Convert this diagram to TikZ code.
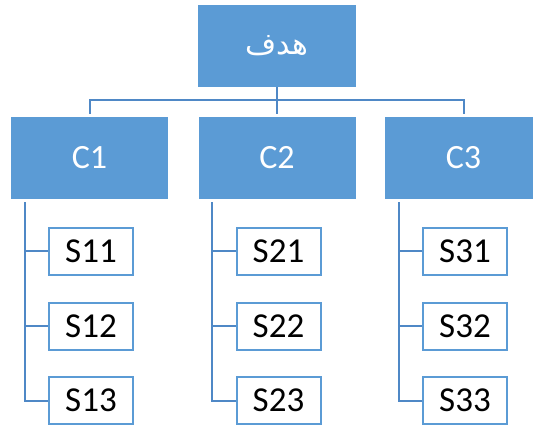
\documentclass[tikz,border=0pt]{standalone}
\usepackage{fontspec}
\setmainfont{Carlito}
\newfontfamily\arabicfont[Script=Arabic]{DejaVu Sans}
\TeXXeTstate=1
\definecolor{boxblue}{HTML}{5B9BD5}
\definecolor{lineblue}{HTML}{4F88C6}
\begin{document}
\begin{tikzpicture}[x=1pt,y=-1pt,
  catbox/.style={draw=none,fill=boxblue,minimum width=157pt,minimum height=82pt,inner sep=0pt,text=white,font=\fontsize{34}{40}\selectfont},
  subbox/.style={draw=boxblue,line width=2pt,fill=white,minimum width=84pt,minimum height=47pt,inner sep=0pt,text=black,font=\fontsize{35}{40}\selectfont},
  conn/.style={draw=lineblue,line width=2pt}]
\clip (0,0) rectangle (533,426);
\fill[white] (0,0) rectangle (533,426);
\node[catbox,minimum width=158pt] (top) at (277,46) {\arabicfont\fontsize{30}{36}\selectfont\beginR هدف\endR};
\node[catbox] (c1) at (89.5,158) {C1};
\node[catbox] (c2) at (277,158) {C2};
\node[catbox] (c3) at (463.5,158) {C3};
\coordinate (j) at (277,100);
\draw[conn] (top.south) -- (j);
\draw[conn,shorten >=3pt] (j) -| (c1.north);
\draw[conn,shorten >=3pt] (j) -| (c3.north);
\draw[conn,shorten >=3pt] (j) -- (c2.north);
\foreach \c/\x [count=\i] in {c1/91,c2/278.5,c3/465}{
  \node[subbox] (s\i1) at (\x,251) {S\i1};
  \node[subbox] (s\i2) at (\x,326) {S\i2};
  \node[subbox] (s\i3) at (\x,400.5) {S\i3};
  \draw[conn,shorten <=3pt] ([xshift=14pt]\c.south west) |- (s\i3.west);
  \draw[conn] ([xshift=14pt]\c.south west |- s\i1.west) -- (s\i1.west);
  \draw[conn] ([xshift=14pt]\c.south west |- s\i2.west) -- (s\i2.west);
}
\end{tikzpicture}
\end{document}
